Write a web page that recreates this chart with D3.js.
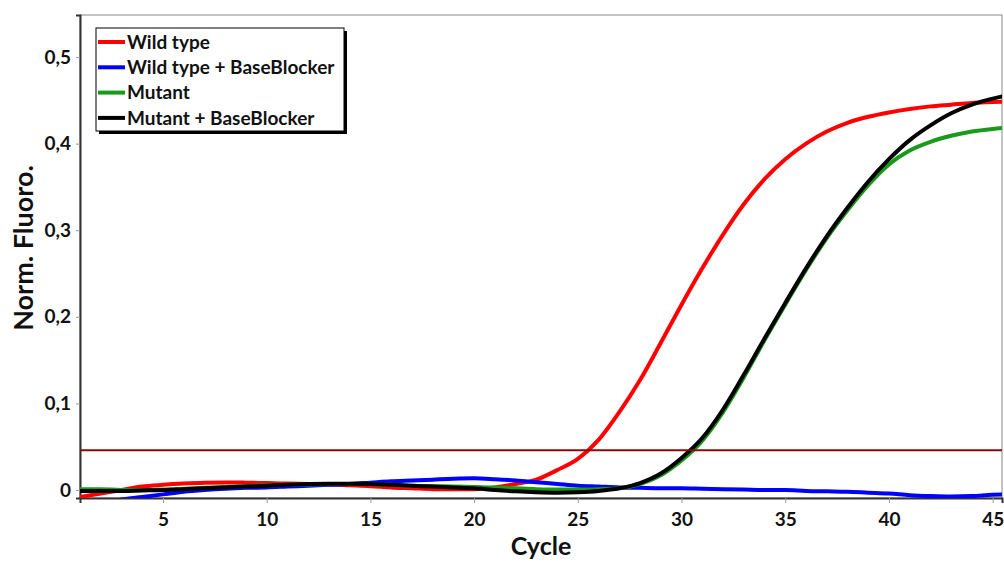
<!DOCTYPE html>
<html>
<head>
<meta charset="utf-8">
<script src="https://cdn.jsdelivr.net/npm/d3@7"></script>
<style>
  html, body { margin: 0; padding: 0; background: #fff; }
  #chart { width: 1004px; height: 562px; }
  text { font-family: Lato, "Open Sans", sans-serif; font-weight: bold; fill: #111; }
</style>
</head>
<body>
<div id="chart"></div>
<script>
// Cycle numbers (one reading per cycle, 46 is only there to reach the right border)
const cycles = d3.range(1, 47);

// Normalised fluorescence, one value per cycle
const wildType = [
  -0.008, -0.004, 0.000, 0.004, 0.006, 0.0075, 0.0085, 0.0088, 0.0085, 0.008,
  0.0075, 0.007, 0.0065, 0.0055, 0.0045, 0.003, 0.002, 0.001, 0.0008, 0.001,
  0.003, 0.007, 0.012, 0.023, 0.036, 0.058, 0.090, 0.127, 0.170, 0.214,
  0.256, 0.295, 0.330, 0.359, 0.382, 0.400, 0.414, 0.424, 0.431, 0.436,
  0.440, 0.443, 0.445, 0.447, 0.448, 0.449
];
const wildTypeBlocker = [
  -0.020, -0.016, -0.011, -0.008, -0.005, -0.002, 0.000, 0.0015, 0.0025, 0.003,
  0.004, 0.005, 0.006, 0.007, 0.0085, 0.010, 0.011, 0.012, 0.013, 0.0135,
  0.0125, 0.011, 0.009, 0.007, 0.005, 0.004, 0.003, 0.0025, 0.002, 0.002,
  0.0015, 0.001, 0.0005, 0.000, 0.000, -0.001, -0.0015, -0.002, -0.003, -0.004,
  -0.006, -0.007, -0.0075, -0.007, -0.0055, -0.005
];
const mutant = [
  0.001, 0.001, 0.000, 0.000, 0.0005, 0.0015, 0.0025, 0.0035, 0.0045, 0.0055,
  0.006, 0.0065, 0.007, 0.007, 0.0068, 0.006, 0.005, 0.0045, 0.004, 0.0035,
  0.003, 0.002, 0.001, 0.0005, 0.0005, 0.001, 0.002, 0.007, 0.017, 0.034,
  0.057, 0.090, 0.130, 0.173, 0.214, 0.254, 0.291, 0.323, 0.352, 0.376,
  0.392, 0.402, 0.409, 0.414, 0.417, 0.419
];
const mutantBlocker = [
  -0.001, -0.001, -0.001, -0.0005, 0.000, 0.001, 0.002, 0.003, 0.004, 0.005,
  0.006, 0.007, 0.0072, 0.0072, 0.007, 0.006, 0.005, 0.004, 0.003, 0.002,
  0.000, -0.0015, -0.0025, -0.003, -0.0025, -0.001, 0.002, 0.008, 0.019, 0.037,
  0.060, 0.093, 0.133, 0.175, 0.216, 0.256, 0.293, 0.326, 0.356, 0.382,
  0.404, 0.421, 0.435, 0.445, 0.452, 0.457
];

const seriesNames = ['Wild type', 'Wild type + BaseBlocker', 'Mutant', 'Mutant + BaseBlocker'];
const seriesColors = ['#ff0000', '#0000ff', '#1a9a1a', '#000000'];
const seriesValues = [wildType, wildTypeBlocker, mutant, mutantBlocker];

const xTicks = [5, 10, 15, 20, 25, 30, 35, 40, 45];
const yTicks = [0, 0.1, 0.2, 0.3, 0.4, 0.5];
const threshold = 0.046;

class AmpChart {
  constructor(elemName) {
    this.svg = d3.select(elemName).append('svg')
      .attr('width', 1004)
      .attr('height', 562);
    this.margin = { top: 15, right: 2, bottom: 64, left: 80 };
    this.width = 1004 - this.margin.left - this.margin.right;
    this.height = 562 - this.margin.top - this.margin.bottom;
    this.chart = this.svg.append('g')
      .attr('transform', `translate(${this.margin.left}, ${this.margin.top})`);
  }

  draw() {
    // scales: cycle 1 sits on the left border, the frame ends a bit past 45
    this.x = d3.scaleLinear().domain([1, 45.45]).range([0, this.width]);
    this.y = d3.scaleLinear().domain([-0.0092, 0.5485]).range([this.height, 0]);

    this.svg.append('defs').append('clipPath').attr('id', 'plot-clip')
      .append('rect').attr('width', this.width).attr('height', this.height);

    // thin grey frame on top and right
    this.chart.append('rect')
      .attr('width', this.width).attr('height', this.height)
      .attr('fill', 'none').attr('stroke', '#8a8a8a').attr('stroke-width', 1);

    this.drawAxes();
    this.drawLines();
    this.drawLegend();
  }

  drawAxes() {
    const fmt = d => d === 0 ? '0' : d.toFixed(1).replace('.', ',');

    const xAxis = this.chart.append('g')
      .attr('transform', `translate(0, ${this.height})`)
      .call(d3.axisBottom(this.x).tickValues(xTicks).tickSize(5).tickPadding(10));
    xAxis.select('.domain').attr('stroke', '#333').attr('stroke-width', 2);
    xAxis.selectAll('.tick line').attr('stroke', '#999');
    xAxis.selectAll('.tick text').style('font-size', '19px').attr('fill', '#111');

    const yAxis = this.chart.append('g')
      .call(d3.axisLeft(this.y).tickValues(yTicks).tickFormat(fmt).tickSize(4).tickPadding(5));
    yAxis.select('.domain').attr('stroke', '#333').attr('stroke-width', 2);
    yAxis.selectAll('.tick line').attr('stroke', '#999');
    yAxis.selectAll('.tick text').style('font-size', '19px').attr('fill', '#111');

    this.chart.append('text')
      .attr('x', this.width / 2)
      .attr('y', this.height + 57)
      .attr('text-anchor', 'middle')
      .style('font-size', '25px')
      .text('Cycle');

    this.svg.append('text')
      .attr('transform', `translate(33, ${this.margin.top + 233}) rotate(-90)`)
      .attr('text-anchor', 'middle')
      .style('font-size', '27px')
      .text('Norm. Fluoro.');
  }

  drawLines() {
    const plot = this.chart.append('g').attr('clip-path', 'url(#plot-clip)');
    const line = d3.line()
      .x((d, i) => this.x(cycles[i]))
      .y(d => this.y(d))
      .curve(d3.curveMonotoneX);

    seriesValues.forEach((vals, i) => {
      plot.append('path')
        .datum(vals)
        .attr('d', line)
        .attr('fill', 'none')
        .attr('stroke', seriesColors[i])
        .attr('stroke-width', 4)
        .attr('stroke-linejoin', 'round');
    });

    // threshold line
    plot.append('line')
      .attr('x1', 0).attr('x2', this.width)
      .attr('y1', this.y(threshold)).attr('y2', this.y(threshold))
      .attr('stroke', '#8b0a0a').attr('stroke-width', 2);
  }

  drawLegend() {
    const lg = this.svg.append('g').attr('transform', 'translate(96, 28)');
    const w = 248, h = 103;
    lg.append('rect').attr('x', 3).attr('y', 3).attr('width', w).attr('height', h).attr('fill', '#000');
    lg.append('rect').attr('width', w).attr('height', h)
      .attr('fill', '#fff').attr('stroke', '#000').attr('stroke-width', 1);

    const rows = lg.selectAll('.row').data(seriesNames).enter().append('g')
      .attr('transform', (d, i) => `translate(0, ${14 + i * 25.3})`);
    rows.append('line')
      .attr('x1', 2).attr('x2', 29)
      .attr('stroke', (d, i) => seriesColors[i])
      .attr('stroke-width', 4);
    rows.append('text')
      .attr('x', 31)
      .attr('dy', '0.35em')
      .style('font-size', '19px')
      .text(d => d);
  }
}

const chart = new AmpChart('#chart');
chart.draw();
</script>
</body>
</html>
